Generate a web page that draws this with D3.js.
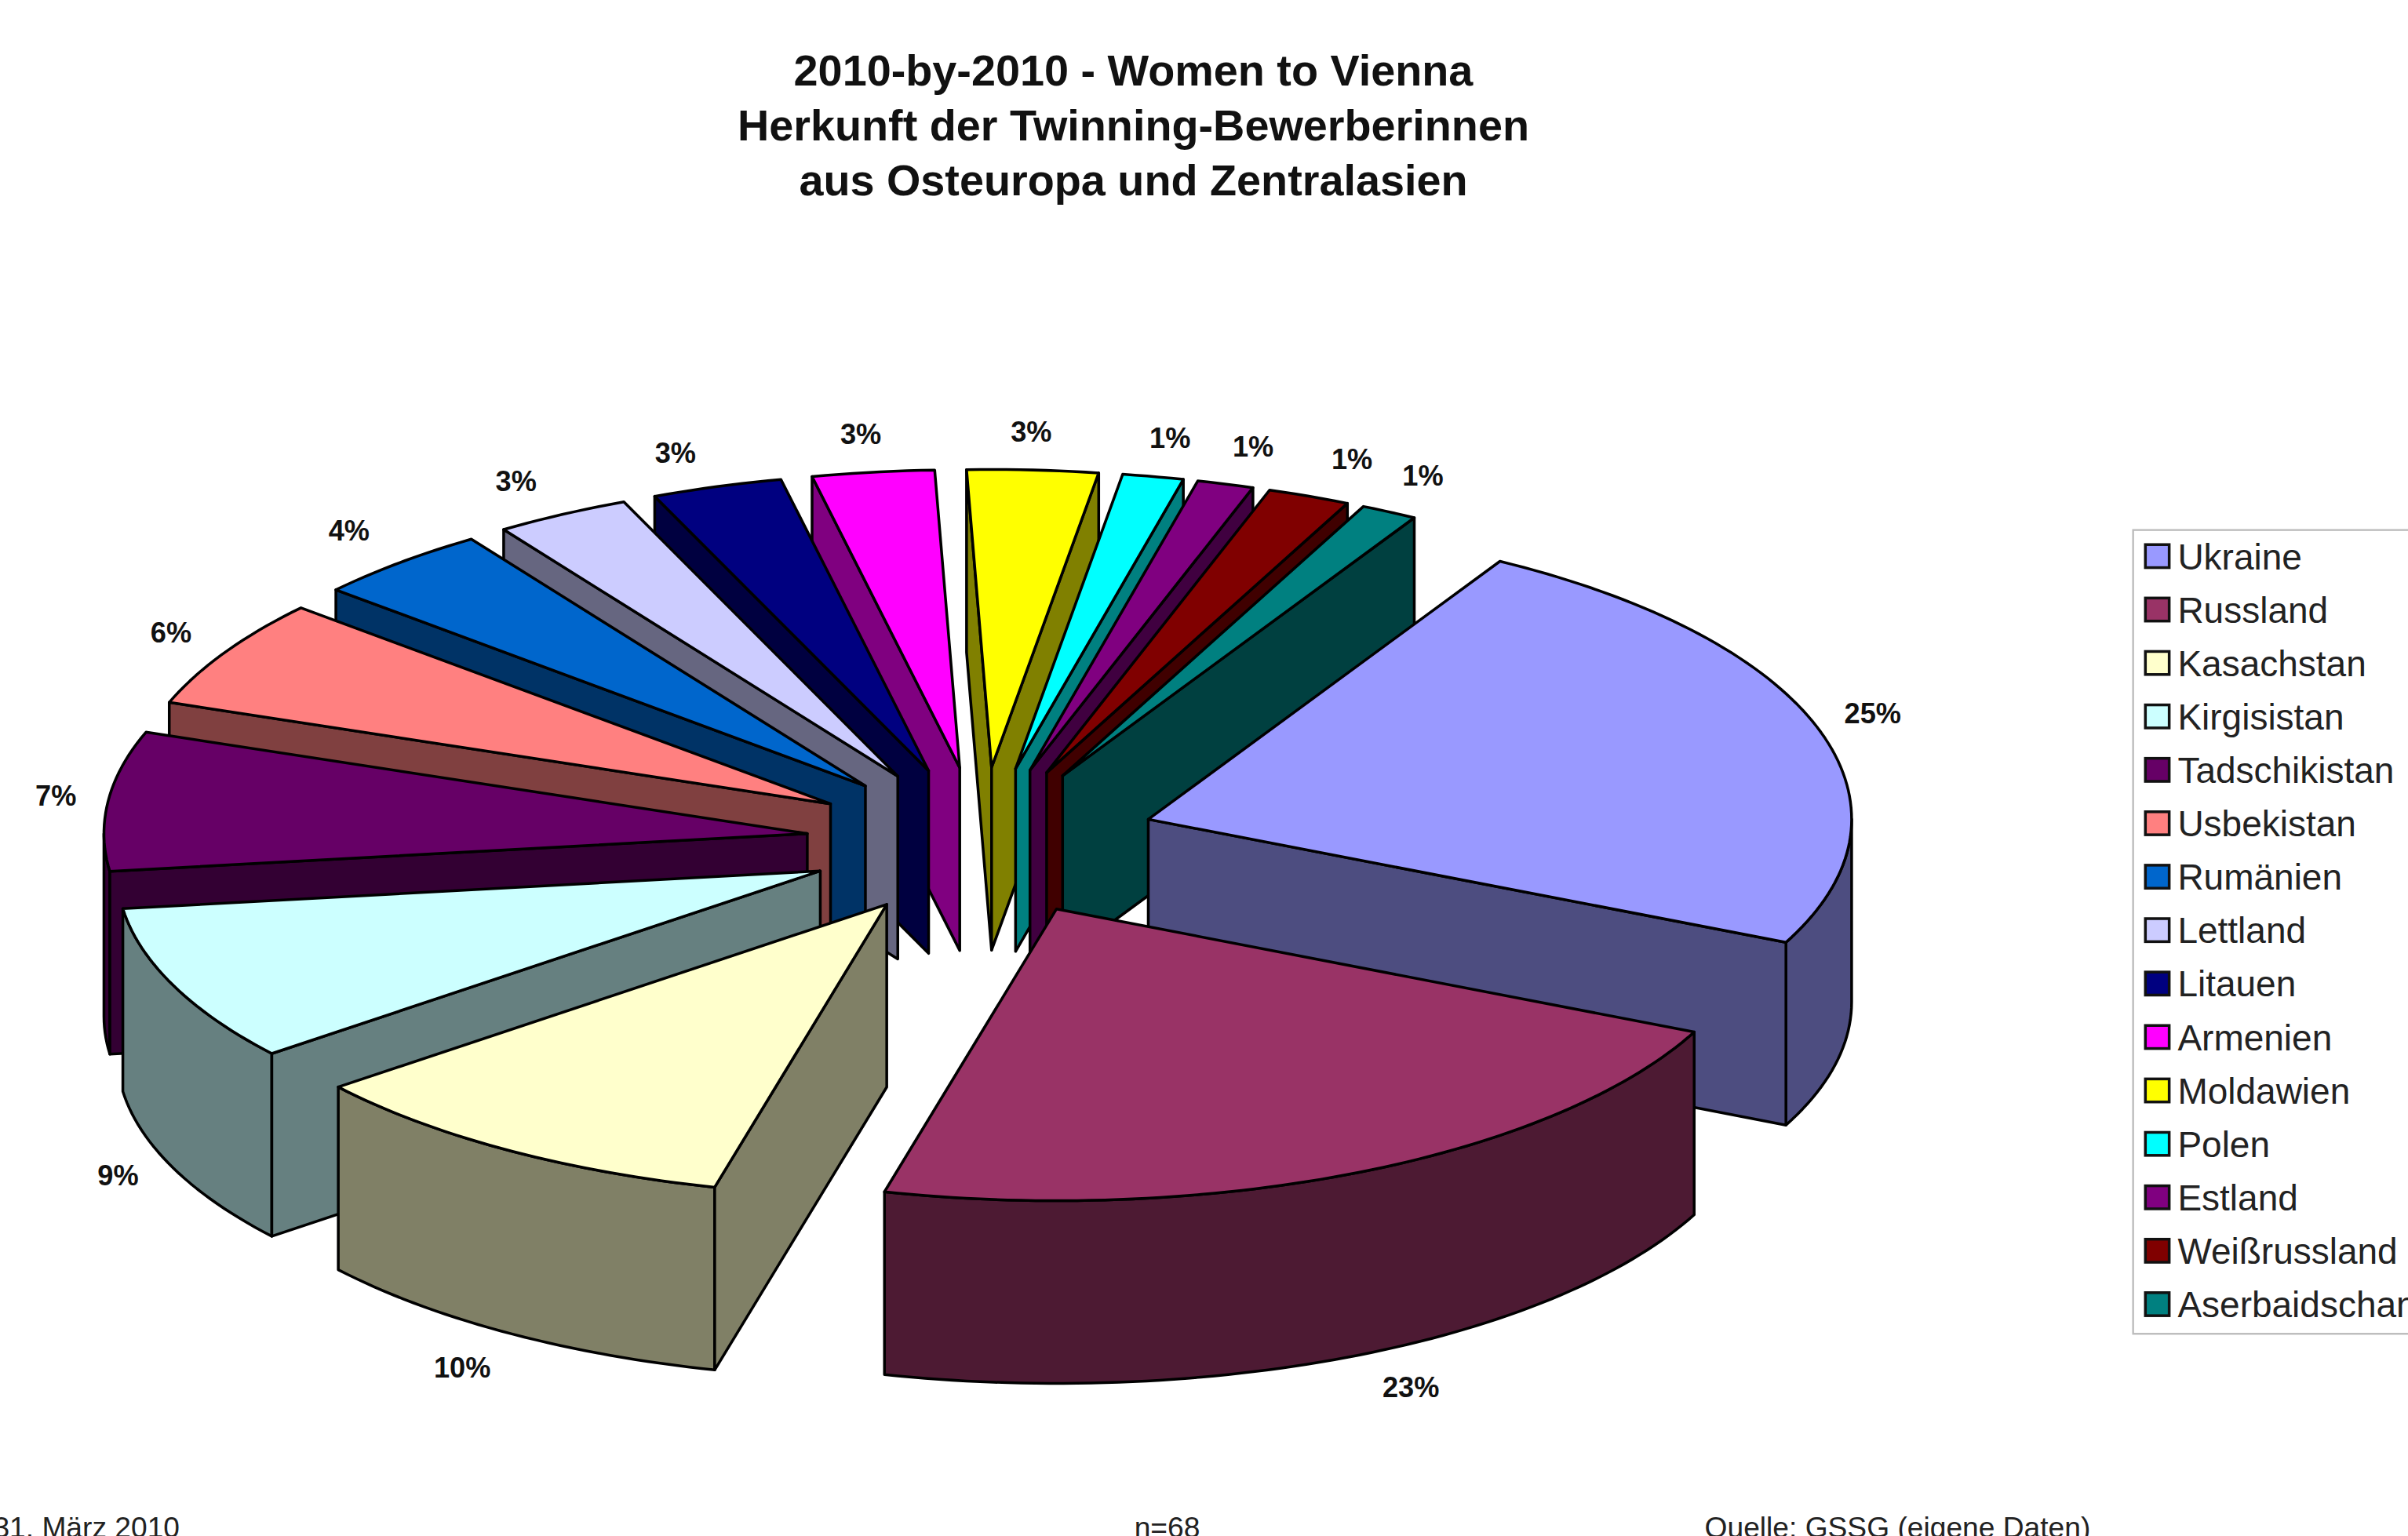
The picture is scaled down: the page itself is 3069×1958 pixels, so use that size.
<!DOCTYPE html>
<html>
<head>
<meta charset="utf-8">
<title>2010-by-2010 - Women to Vienna</title>
<script src="https://cdn.jsdelivr.net/npm/d3@7/dist/d3.min.js"></script>
<style>
html, body { margin: 0; padding: 0; background: #fff; overflow: hidden; }
svg { display: block; }
text { font-family: "Liberation Sans", Arial, sans-serif; fill: #111; }
.title { font-size: 28.5px; font-weight: bold; text-anchor: middle; }
.pct { font-size: 18.5px; font-weight: bold; text-anchor: middle; }
.legendText { font-size: 23.5px; fill: #222; }
.foot { font-size: 19px; fill: #222; }
.face { stroke: #000; stroke-width: 1.8; stroke-linejoin: round; }
</style>
</head>
<body>
<script>
//data
var countries = ["Ukraine", "Russland", "Kasachstan", "Kirgisistan", "Tadschikistan", "Usbekistan", "Rumänien", "Lettland", "Litauen", "Armenien", "Moldawien", "Polen", "Estland", "Weißrussland", "Aserbaidschan"];
//share of each slice as measured off the drawn angles, the tilted pie does not quite follow the printed labels
var shares = [23.6, 22.0, 10.3, 8.7, 7.6, 5.9, 4.1, 3.1, 3.0, 2.8, 3.0, 1.4, 1.3, 1.9, 1.3];
var pctLabels = ["25%", "23%", "10%", "9%", "7%", "6%", "4%", "3%", "3%", "3%", "3%", "1%", "1%", "1%", "1%"];
var colors = ["#9999FF", "#993366", "#FFFFCC", "#CCFFFF", "#660066", "#FF8080", "#0066CC", "#CCCCFF", "#000080", "#FF00FF", "#FFFF00", "#00FFFF", "#800080", "#800000", "#008080"];
var titleLines = ["2010-by-2010 - Women to Vienna", "Herkunft der Twinning-Bewerberinnen", "aus Osteuropa und Zentralasien"];

//pie geometry, drawn in a 1568x1000 frame and scaled up by the viewBox
var cx = 639, cy = 548,
    rx = 458,
    ryFront = 190, ryBack = 194, //the far half reads a little taller
    ex = 114, ey = 48.5, //explosion of each slice
    depth = 119;

var svg = d3.select("body")
    .append("svg")
    .attr("width", 3069)
    .attr("height", 1958)
    .attr("viewBox", "0 0 1568 1000");

svg.selectAll(".title")
    .data(titleLines)
    .enter()
    .append("text")
    .attr("class", "title")
    .attr("x", 738)
    .attr("y", function(d, i){ return 55.5 + i * 35.8; })
    .text(function(d){ return d; });

//start at 30 degrees clockwise from the top, keep the given order
var pie = d3.pie()
    .sort(null)
    .value(function(d){ return d; })
    .startAngle(Math.PI / 6)
    .endAngle(Math.PI / 6 + 2 * Math.PI);

var slices = pie(shares);
var line = d3.line();

function midAngle(d){
    return (d.startAngle + d.endAngle) / 2;
}

//apex of the exploded slice
function apex(d, drop){
    var m = midAngle(d);
    return [cx + ex * Math.sin(m), cy - ey * Math.cos(m) + (drop || 0)];
}

//point on the rim of the exploded slice
function rim(d, a, drop){
    var p = apex(d, drop),
        c = Math.cos(a);
    return [p[0] + rx * Math.sin(a), p[1] - (c > 0 ? ryBack : ryFront) * c];
}

//rim points between two angles
function arcPoints(d, a0, a1, drop){
    var n = Math.max(2, Math.ceil((a1 - a0) / 0.02));
    return d3.range(n + 1).map(function(i){
        return rim(d, a0 + (a1 - a0) * i / n, drop);
    });
}

//flat cut wall from apex out to the rim
function cutWall(d, a){
    return line([apex(d), rim(d, a), rim(d, a, depth), apex(d, depth)]) + "Z";
}

//curved wall, only the part that faces the viewer
function rimWalls(d){
    var out = [];
    [[Math.PI / 2, 3 * Math.PI / 2], [5 * Math.PI / 2, 7 * Math.PI / 2]].forEach(function(front){
        var a0 = Math.max(d.startAngle, front[0]),
            a1 = Math.min(d.endAngle, front[1]);
        if (a1 > a0){
            out.push(line(arcPoints(d, a0, a1).concat(arcPoints(d, a0, a1, depth).reverse())) + "Z");
        }
    });
    return out;
}

//side walls are the top colour at half brightness
function shade(c){
    var rgb = d3.rgb(c);
    return d3.rgb(rgb.r / 2, rgb.g / 2, rgb.b / 2).formatHex();
}

//paint from the back of the pie to the front
var order = slices.slice().sort(function(a, b){
    return Math.cos(midAngle(b)) - Math.cos(midAngle(a));
});

var groups = svg.selectAll(".slice")
    .data(order)
    .enter()
    .append("g")
    .attr("class", "slice");

groups.each(function(d){
    var g = d3.select(this),
        side = shade(colors[d.index]),
        walls = rimWalls(d);

    if (Math.sin(d.startAngle) < 0) walls.push(cutWall(d, d.startAngle));
    if (Math.sin(d.endAngle) > 0) walls.push(cutWall(d, d.endAngle));

    walls.forEach(function(w){
        g.append("path")
            .attr("class", "face")
            .attr("d", w)
            .style("fill", side);
    });

    g.append("path")
        .attr("class", "face")
        .attr("d", line([apex(d)].concat(arcPoints(d, d.startAngle, d.endAngle))) + "Z")
        .style("fill", colors[d.index]);
});

//hand placement of the percent labels relative to the slice rim
var labelNudge = [[35, -12], [34, 21], [-29, 23], [-36, 5], [-34, -4], [-35, -15], [-33, -24], [-30, -25], [-27, -26], [-8, -29], [-1, -29], [11, -29], [18, -28], [28, -28], [22, -27]];

//percent labels
svg.selectAll(".pct")
    .data(slices)
    .enter()
    .append("text")
    .attr("class", "pct")
    .attr("dy", "0.35em")
    .attr("x", function(d, i){
        return cx + (rx + ex) * Math.sin(midAngle(d)) + labelNudge[i][0];
    })
    .attr("y", function(d, i){
        var c = Math.cos(midAngle(d));
        return cy - (ryFront + ey) * c + (c < 0 ? depth : 0) + labelNudge[i][1];
    })
    .text(function(d, i){ return pctLabels[i]; });

//legend, runs off the right edge like the source
var legendY = d3.scaleBand()
    .domain(countries)
    .range([345.1, 867.1]);

svg.append("rect")
    .attr("x", 1389)
    .attr("y", 345)
    .attr("width", 220)
    .attr("height", 523.5)
    .style("fill", "#fff")
    .style("stroke", "#bbb")
    .style("stroke-width", 1.2);

var rows = svg.selectAll(".legendRow")
    .data(countries)
    .enter()
    .append("g")
    .attr("class", "legendRow")
    .attr("transform", function(d){
        return "translate(0," + (legendY(d) + legendY.bandwidth() / 2) + ")";
    });

rows.append("rect")
    .attr("x", 1397)
    .attr("y", -8)
    .attr("width", 15.5)
    .attr("height", 15)
    .style("fill", function(d, i){ return colors[i]; })
    .style("stroke", "#111")
    .style("stroke-width", 1.8);

rows.append("text")
    .attr("class", "legendText")
    .attr("x", 1418)
    .attr("dy", "0.34em")
    .text(function(d){ return d; });

//footer line, cut by the bottom of the page
var footer = [["31. März 2010", 117, "end"], ["n=68", 760, "middle"], ["Quelle: GSSG (eigene Daten)", 1110, "start"]];

svg.selectAll(".foot")
    .data(footer)
    .enter()
    .append("text")
    .attr("class", "foot")
    .attr("x", function(d){ return d[1]; })
    .attr("y", 1001)
    .style("text-anchor", function(d){ return d[2]; })
    .text(function(d){ return d[0]; });
</script>
</body>
</html>
